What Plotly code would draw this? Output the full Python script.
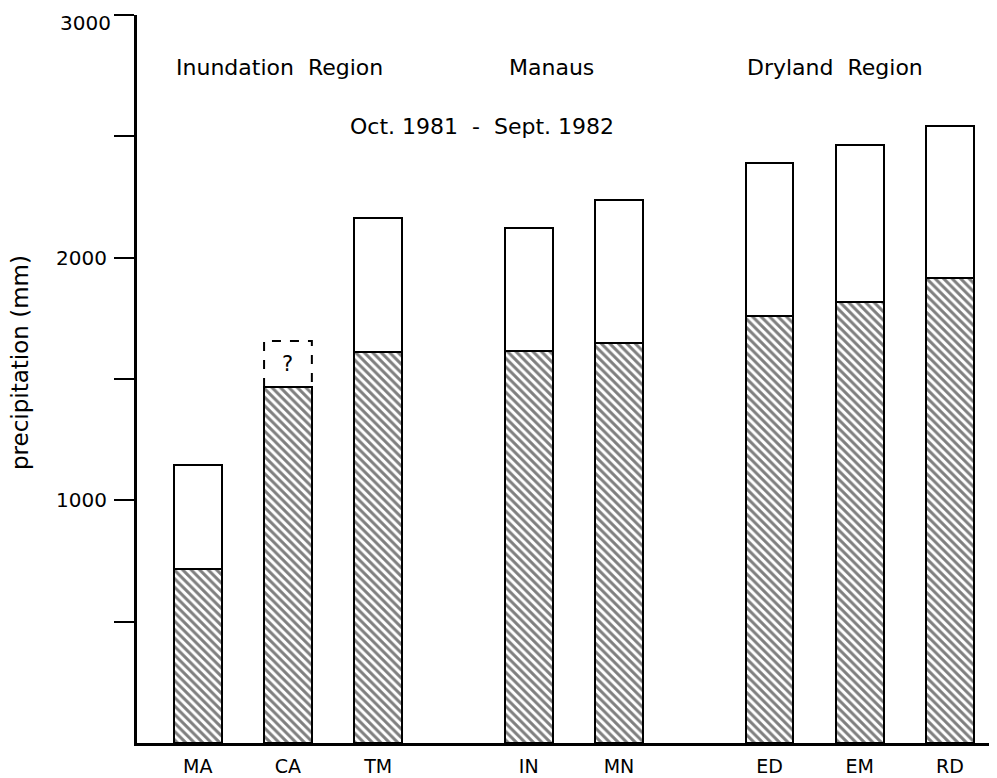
import plotly.graph_objects as go

# ---- data ----
stations = ["MA", "CA", "TM", "IN", "MN", "ED", "EM", "RD"]
station_group = [0, 0, 0, 1, 1, 2, 2, 2]
hatched_part = [717, 1467, 1611, 1615, 1648, 1760, 1817, 1916]   # hatched (lower) portion, mm
total_precip = [1146, None, 2163, 2122, 2238, 2390, 2464, 2543]  # total annual precipitation, mm
ca_uncertain_top = 1657                                           # dashed "?" box top for CA
group_labels = ["Inundation  Region", "Manaus", "Dryland  Region"]
period_label = "Oct. 1981  -  Sept. 1982"
y_tick_vals = [500, 1000, 1500, 2000, 2500, 3000]
y_tick_text = ["", "1000", "", "2000", "", "3000"]
y_title = "precipitation (mm)"

# ---- layout helpers ----
GROUP_GAP = 0.67
BAR_W = 0.53
xpos = [i + g * GROUP_GAP for i, g in enumerate(station_group)]
upper_part = [None if t is None else t - h for t, h in zip(total_precip, hatched_part)]

FONT = "DejaVu Sans"

fig = go.Figure()
fig.add_trace(go.Bar(
    x=xpos, y=hatched_part, width=BAR_W,
    marker=dict(color="white",
                line=dict(color="black", width=2),
                pattern=dict(shape="\\", fgcolor="black", bgcolor="white",
                             size=6, solidity=0.5)),
    showlegend=False, hoverinfo="skip"))
fig.add_trace(go.Bar(
    x=xpos, y=upper_part, width=BAR_W,
    marker=dict(color="white", line=dict(color="black", width=2)),
    showlegend=False, hoverinfo="skip"))

# dashed uncertain box above CA
ci = stations.index("CA")
cx = xpos[ci]
fig.add_trace(go.Scatter(
    x=[cx - BAR_W / 2, cx - BAR_W / 2, cx + BAR_W / 2, cx + BAR_W / 2],
    y=[hatched_part[ci], ca_uncertain_top, ca_uncertain_top, hatched_part[ci]],
    mode="lines", line=dict(color="black", width=2, dash="dash"),
    showlegend=False, hoverinfo="skip"))

# the topmost tick label is drawn as an annotation so it stays inside the page
top_label = y_tick_text[-1]
axis_tick_text = y_tick_text[:-1] + [""]

annotations = [
    dict(x=cx, y=(hatched_part[ci] + ca_uncertain_top) / 2, text="?",
         showarrow=False, font=dict(family=FONT, size=21, color="black")),
    dict(x=0.91, y=2785, text=group_labels[0], showarrow=False,
         font=dict(family=FONT, size=22, color="black")),
    dict(x=3.92, y=2785, text=group_labels[1], showarrow=False,
         font=dict(family=FONT, size=22, color="black")),
    dict(x=7.07, y=2785, text=group_labels[2], showarrow=False,
         font=dict(family=FONT, size=22, color="black")),
    dict(x=3.15, y=2540, text=period_label, showarrow=False,
         font=dict(family=FONT, size=22, color="black")),
    dict(xref="paper", x=-0.028, y=1570, text=y_title, textangle=-90,
         showarrow=False, xanchor="center", yanchor="middle",
         font=dict(family=FONT, size=23, color="black"),
         xshift=-93),
    dict(xref="paper", x=-0.028, y=y_tick_vals[-1], text=top_label,
         showarrow=False, xanchor="right", yanchor="top", yshift=6,
         font=dict(family=FONT, size=20, color="black")),
]

fig.update_layout(
    width=989, height=770,
    margin=dict(l=129, r=2, t=7, b=35, autoexpand=False),
    paper_bgcolor="white", plot_bgcolor="white",
    barmode="stack", bargap=0,
    annotations=annotations,
    font=dict(family=FONT, color="black"),
    xaxis=dict(range=[-0.674, 8.84], tickvals=xpos, ticktext=stations,
               automargin=False,
               showline=True, linecolor="black", linewidth=2.5,
               ticks="", showgrid=False, zeroline=False,
               tickfont=dict(family=FONT, size=19, color="black"),
               ticklabelstandoff=4),
    yaxis=dict(range=[0, 3000], tickvals=y_tick_vals, ticktext=axis_tick_text,
               automargin=False,
               showline=True, linecolor="black", linewidth=3,
               ticks="outside", ticklen=20, tickwidth=2, tickcolor="black",
               showgrid=False, zeroline=False,
               tickfont=dict(family=FONT, size=20, color="black"),
               ticklabelstandoff=3),
)

fig.write_html("out.html")
